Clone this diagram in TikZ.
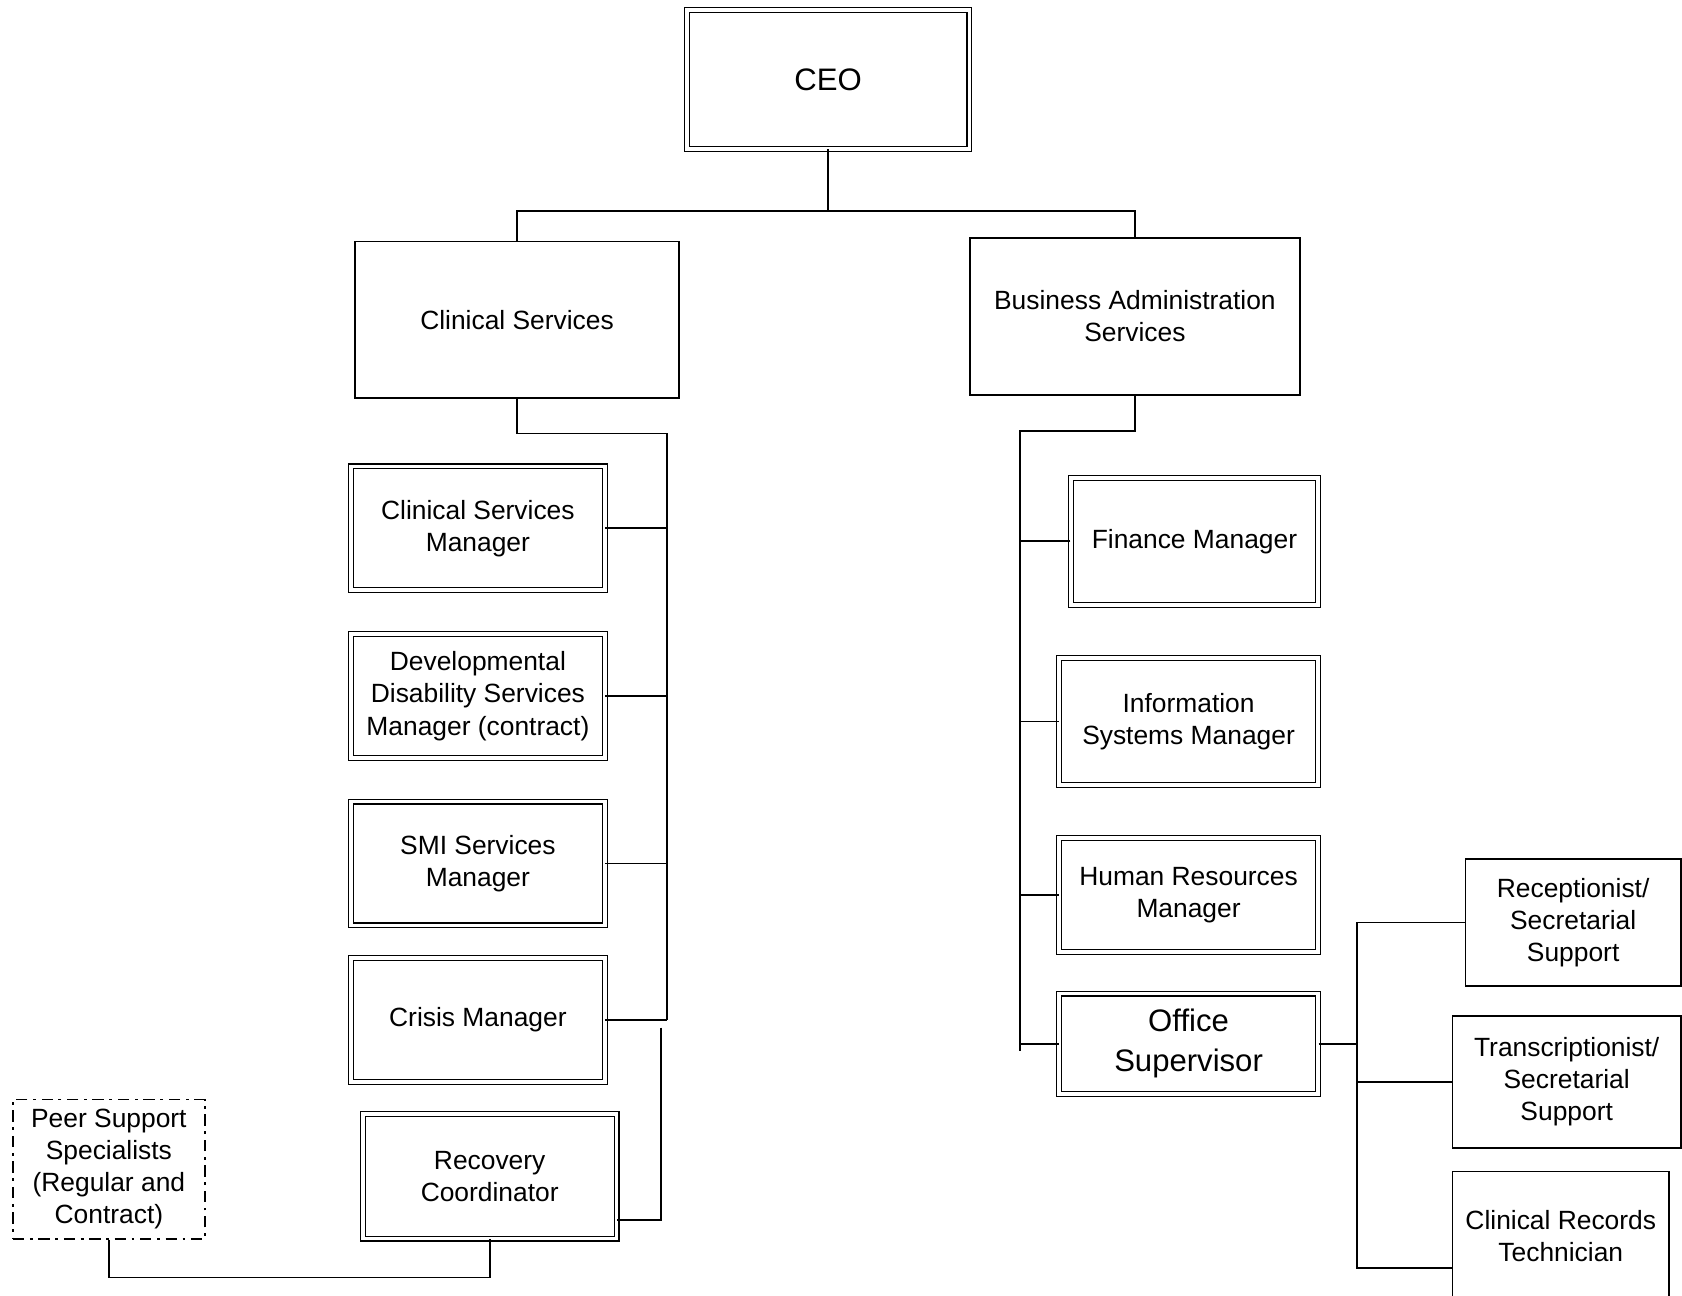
\documentclass[tikz,border=0pt]{standalone}
\usepackage{fontspec}
\setmainfont{Liberation Sans}
\usetikzlibrary{positioning}

\begin{document}
\begin{tikzpicture}[x=0.02cm,y=-0.02cm,on grid,
    box/.style={draw,line width=0.9pt,align=center,font=\fontsize{14}{17}\selectfont},
    dbox/.style={draw,double,line width=0.6pt,double distance=2pt,align=center,font=\fontsize{14}{17}\selectfont},
    big/.style={font=\fontsize{16.5}{21}\selectfont},
    link/.style={line width=0.9pt}]
  \useasboundingbox (0,0) rectangle (1568,1208);

  \node[dbox,big,minimum width=5.27cm,minimum height=2.59cm] (ceo) at (772,74) {CEO};
  \node[box,minimum width=6.04cm,minimum height=2.92cm] (clin) at (482,298) {Clinical Services};
  \node[box,minimum width=6.16cm,minimum height=2.92cm] (bas) at (1058,295) {Business Administration\\Services};

  % clinical side
  \node[dbox,minimum width=4.73cm,minimum height=2.31cm] (csm) at (445.5,492.5) {Clinical Services\\Manager};
  \node[dbox,minimum width=4.73cm,minimum height=2.31cm] (ddsm) [below=3.13cm of csm] {Developmental\\Disability Services\\Manager (contract)};
  \node[dbox,minimum width=4.73cm,minimum height=2.31cm] (smi) [below=3.12cm of ddsm] {SMI Services\\Manager};
  \node[dbox,minimum width=4.73cm,minimum height=2.31cm] (crisis) [below=2.92cm of smi] {Crisis Manager};
  \node[dbox,minimum width=4.73cm,minimum height=2.33cm] (rec) [below right=2.91cm and 0.22cm of crisis] {Recovery\\Coordinator};
  \node[box,dash pattern=on 6pt off 3pt on 1.5pt off 3pt,minimum width=3.58cm,minimum height=2.6cm] (peer) at (101.5,1090) {Peer Support\\Specialists\\(Regular and\\Contract)};

  % business side
  \node[dbox,minimum width=4.61cm,minimum height=2.37cm] (fin) at (1113.5,504.5) {Finance Manager};
  \node[dbox,minimum width=4.83cm,minimum height=2.37cm] (isys) [below left=3.36cm and 0.11cm of fin] {Information\\Systems Manager};
  \node[dbox,minimum width=4.83cm,minimum height=2.13cm] (hr) [below=3.24cm of isys] {Human Resources\\Manager};
  \node[dbox,big,minimum width=4.83cm,minimum height=1.87cm] (os) [below=2.77cm of hr] {Office\\Supervisor};

  \node[box,minimum width=4.02cm,minimum height=2.36cm] (rsec) at (1466.5,860) {Receptionist/\\Secretarial\\Support};
  \node[box,minimum width=4.26cm,minimum height=2.46cm] (tsec) at (1460.5,1008.5) {Transcriptionist/\\Secretarial\\Support};
  \node[box,minimum width=4.04cm,minimum height=2.4cm] (crt) at (1455,1152) {Clinical Records\\Technician};

  % connectors
  \coordinate (top) at (772,197);
  \draw[link] (ceo.south) -- (top);
  \draw[link] (clin.north) |- (top) -| (bas.north);

  \coordinate (cbus) at (622,404);
  \draw[link] (clin.south) |- (cbus) -- (cbus |- crisis.east);
  \foreach \n in {csm,ddsm,smi,crisis}
    \draw[link] (\n.east) -- (cbus |- \n.east);

  \coordinate (rtop) at (616,958);
  \coordinate (rbot) at (616,1137);
  \draw[link] (rtop) -- (rbot) -- (rec.east |- rbot);
  \draw[link] (peer.south) -- ++(0,35) -| (rec.south);

  \coordinate (bbus) at (951,402);
  \coordinate (bend) at (951,980);
  \draw[link] (bas.south) |- (bbus) -- (bend);
  \foreach \n in {fin,isys,hr,os}
    \draw[link] (\n.west) -- (bbus |- \n.west);

  \coordinate (obus) at (1265,860);
  \coordinate (obot) at (1265,1182);
  \draw[link] (os.east) -- (os.east -| obus);
  \draw[link] (rsec.west) -- (obus) -- (obot) -- (crt.west |- obot);
  \draw[link] (tsec.west) -- (obus |- tsec.west);
\end{tikzpicture}
\end{document}
